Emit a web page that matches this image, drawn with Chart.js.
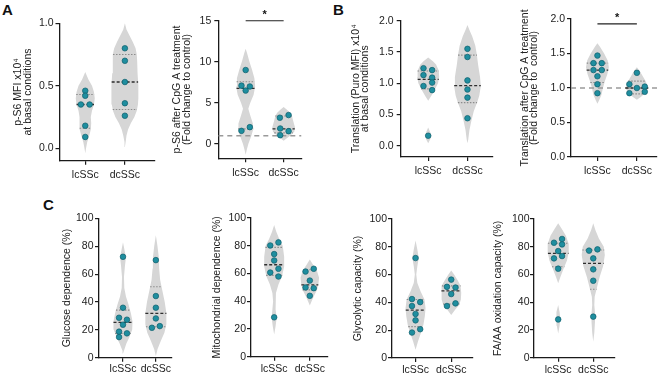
<!DOCTYPE html>
<html lang="en">
<head>
<meta charset="UTF-8">
<title>SSc violin plots</title>
<script src="https://cdn.jsdelivr.net/npm/chart.js"></script>
<style>
  body { margin: 0; background: #fff; width: 669px; height: 376px; position: relative; overflow: hidden; font-family: "Liberation Sans", Arial, sans-serif; }
  canvas { position: absolute; }
  .tag { position: absolute; font-weight: bold; font-size: 15px; color: #111; }
</style>
</head>
<body>
<div class="tag" style="left:2px;top:1px">A</div>
<div class="tag" style="left:333px;top:1px">B</div>
<div class="tag" style="left:43px;top:196px">C</div>

<script>
const groups = ['lcSSc', 'dcSSc'];

// ---- A, left: p-S6 at basal conditions ----
const a1LcVals = [0.46, 0.42, 0.35, 0.35, 0.18, 0.09];
const a1LcJit = [0, 0, -0.11, 0.11, 0, 0];
const a1DcVals = [0.80, 0.70, 0.53, 0.36, 0.26];
const a1DcJit = [0, 0, 0, 0, 0];
const a1LcQuart = [0.16, 0.35, 0.43];
const a1DcQuart = [0.31, 0.53, 0.75];
// violin outline: [value, half width]
const a1LcViolin = [[0.61, 0], [0.55, 0.08], [0.50, 0.17], [0.45, 0.22], [0.40, 0.24], [0.35, 0.22], [0.30, 0.17],
  [0.25, 0.14], [0.20, 0.15], [0.15, 0.14], [0.10, 0.10], [0.05, 0.05], [0.0, 0.02], [-0.04, 0]];
const a1DcViolin = [[1.0, 0], [0.95, 0.04], [0.90, 0.12], [0.85, 0.20], [0.80, 0.27], [0.75, 0.30], [0.70, 0.31],
  [0.60, 0.32], [0.50, 0.34], [0.40, 0.34], [0.35, 0.33], [0.30, 0.30], [0.25, 0.24], [0.20, 0.15], [0.15, 0.08],
  [0.10, 0.04], [0.05, 0.02], [0.01, 0]];

// ---- A, right: p-S6 after CpG A ----
const a2LcVals = [9.0, 7.1, 7.0, 6.5, 2.05, 1.6];
const a2LcJit = [0, -0.11, 0.11, 0, 0.11, -0.11];
const a2DcVals = [3.52, 3.2, 1.89, 1.56, 1.07];
const a2DcJit = [0.13, -0.1, -0.09, 0.13, -0.09];
const a2LcQuart = [1.84, 6.76, 7.58];
const a2DcQuart = [1.35, 1.84, 3.4];
const a2LcViolin = [[11.6, 0], [11, 0.04], [10, 0.10], [9, 0.17], [8, 0.23], [7, 0.25], [6, 0.21], [5, 0.12],
  [4.3, 0.07], [3.5, 0.12], [2.5, 0.19], [1.8, 0.20], [1.0, 0.15], [0, 0.07], [-0.7, 0.03], [-1.3, 0]];
const a2DcViolin = [[4.5, 0], [4.2, 0.08], [3.8, 0.17], [3.4, 0.22], [3.0, 0.24], [2.5, 0.27], [2.0, 0.30],
  [1.5, 0.28], [1.0, 0.17], [0.6, 0.06], [0.4, 0]];
const a2Sig = 15;

// ---- B, left: translation at basal conditions ----
const b1LcVals = [1.24, 1.21, 1.13, 1.09, 1.01, 0.955, 0.89, 0.16];
const b1LcJit = [-0.12, 0.1, -0.12, 0.1, 0.1, -0.12, 0.1, 0];
const b1DcVals = [1.55, 1.42, 1.045, 0.90, 0.77, 0.44];
const b1DcJit = [0, 0, 0, 0, 0, 0];
const b1LcQuart = [0.91, 1.06, 1.195];
const b1DcQuart = [0.69, 0.96, 1.45];
const b1LcViolin = [[1.41, 0], [1.35, 0.12], [1.3, 0.20], [1.2, 0.27], [1.1, 0.28], [1.0, 0.25], [0.9, 0.17],
  [0.8, 0.08], [0.72, 0], [0.29, 0], [0.22, 0.05], [0.16, 0.08], [0.1, 0.05], [0.04, 0]];
const b1DcViolin = [[1.93, 0], [1.85, 0.05], [1.75, 0.12], [1.6, 0.20], [1.45, 0.24], [1.3, 0.27], [1.1, 0.32],
  [0.95, 0.34], [0.8, 0.30], [0.7, 0.25], [0.55, 0.16], [0.4, 0.10], [0.25, 0.05], [0.1, 0.02], [0.04, 0]];

// ---- B, right: translation after CpG A ----
const b2LcVals = [1.47, 1.36, 1.36, 1.26, 1.26, 1.17, 1.055, 0.925];
const b2LcJit = [0, -0.1, 0.11, -0.1, 0.11, 0, 0, 0];
const b2DcVals = [1.22, 1.055, 1.02, 1.0, 0.925, 0.945];
const b2DcJit = [0, -0.19, 0.2, 0, -0.19, 0.2];
const b2LcQuart = [1.08, 1.26, 1.36];
const b2DcQuart = [0.915, 1.0, 1.10];
const b2LcViolin = [[1.65, 0], [1.6, 0.06], [1.5, 0.17], [1.4, 0.26], [1.3, 0.29], [1.2, 0.25], [1.1, 0.19],
  [1.0, 0.14], [0.9, 0.10], [0.82, 0.04], [0.77, 0]];
const b2DcViolin = [[1.3, 0], [1.25, 0.07], [1.2, 0.12], [1.1, 0.22], [1.0, 0.29], [0.93, 0.22], [0.87, 0.10], [0.83, 0]];
const b2Sig = 1.93;

// ---- C: metabolic profiles ----
const c1LcVals = [72.5, 35.9, 28.7, 27.3, 23.7, 18.7, 17.5, 14.8];
const c1LcJit = [0, 0, -0.12, 0.12, 0, -0.12, 0.12, -0.12];
const c1DcVals = [70.1, 44.3, 35.9, 28.2, 21.5, 22.7];
const c1DcJit = [0, 0, 0, 0, -0.12, 0.12];
const c1LcQuart = [17.5, 25.4, 34.2];
const c1DcQuart = [22.2, 31.8, 51];
const c1LcViolin = [[83, 0], [78, 0.04], [72, 0.09], [66, 0.06], [58, 0.03], [50, 0.04], [44, 0.09], [38, 0.17],
  [32, 0.24], [26, 0.29], [20, 0.28], [15, 0.20], [10, 0.10], [5, 0.03], [3, 0]];
const c1DcViolin = [[88, 0], [80, 0.05], [72, 0.09], [64, 0.10], [56, 0.13], [48, 0.20], [40, 0.27], [32, 0.32],
  [24, 0.32], [18, 0.26], [12, 0.15], [6, 0.05], [1, 0]];

const c2LcVals = [82.4, 80.2, 74, 69.4, 63.4, 60.7, 57.8, 28.4];
const c2LcJit = [0.12, -0.11, 0, 0, 0.12, -0.11, 0.12, 0];
const c2DcVals = [63.4, 61.4, 54.9, 49.9, 49.4, 43.9];
const c2DcJit = [0.11, -0.12, 0, -0.12, 0.11, 0];
const c2LcQuart = [58.6, 66.3, 78.8];
const c2DcQuart = [48.2, 51.8, 62.7];
const c2LcViolin = [[95, 0], [90, 0.06], [85, 0.14], [80, 0.24], [72, 0.28], [65, 0.28], [58, 0.22], [52, 0.12],
  [46, 0.05], [40, 0.03], [34, 0.05], [28, 0.07], [22, 0.04], [16, 0]];
const c2DcViolin = [[70, 0], [66, 0.10], [62, 0.20], [57, 0.26], [52, 0.24], [48, 0.20], [44, 0.12], [40, 0.05], [37, 0]];

const c3LcVals = [71.9, 42.4, 40.2, 37.4, 31.7, 27.1, 20.7, 18.3];
const c3LcJit = [0, -0.1, 0.13, -0.1, 0, 0, 0.13, -0.1];
const c3DcVals = [56.4, 51.2, 50.7, 46, 39.3, 37.4];
const c3DcJit = [0, -0.12, 0.12, 0, 0.12, -0.12];
const c3LcQuart = [22.6, 34.5, 42.1];
const c3DcQuart = [38.8, 48.3, 51.9];
const c3LcViolin = [[84.5, 0], [78, 0.05], [72, 0.09], [66, 0.05], [60, 0.02], [54, 0.05], [48, 0.14], [42, 0.25],
  [36, 0.28], [30, 0.26], [24, 0.22], [18, 0.15], [12, 0.07], [6, 0]];
const c3DcViolin = [[63, 0], [60, 0.08], [56, 0.18], [52, 0.26], [47, 0.28], [42, 0.27], [38, 0.22], [35, 0.12], [31, 0]];

const c4LcVals = [85.6, 82.9, 81.7, 76.9, 73.3, 71.6, 64.2, 27.6];
const c4LcJit = [0.11, -0.12, 0.11, 0, 0.11, -0.12, 0, 0];
const c4DcVals = [78.1, 77.2, 71.6, 63.7, 55.5, 29.6];
const c4DcJit = [0.12, -0.12, 0, 0, 0, 0];
const c4LcQuart = [65.6, 75.2, 82.5];
const c4DcQuart = [49.3, 68, 77.6];
const c4LcViolin = [[97, 0], [93, 0.10], [88, 0.22], [82, 0.30], [76, 0.30], [70, 0.25], [64, 0.15], [58, 0.06],
  [53.6, 0], [38, 0], [33, 0.04], [28, 0.06], [23, 0.04], [17.5, 0]];
const c4DcViolin = [[97, 0], [92, 0.06], [86, 0.16], [80, 0.30], [74, 0.33], [66, 0.28], [58, 0.18], [50, 0.10],
  [44, 0.04], [38, 0.03], [32, 0.05], [26, 0.05], [18, 0.03], [11.5, 0]];

const pctTicks = [0, 20, 40, 60, 80, 100];

const FONT = '"Liberation Sans", Arial, sans-serif';
const VIOLIN = '#d6d6d6';
const DOT = '#1f8e9f';
const DOT_EDGE = '#0f5f6c';

function violinPath(center, outline) {
  const right = outline.map(p => ({x: center + p[1], y: p[0]}));
  const left = outline.slice().reverse().map(p => ({x: center - p[1], y: p[0]}));
  return right.concat(left);
}

function widthAt(outline, y) {
  for (let i = 0; i < outline.length - 1; i++) {
    const [y0, w0] = outline[i], [y1, w1] = outline[i + 1];
    if (y <= y0 && y >= y1) return w0 + (w1 - w0) * (y0 - y) / (y0 - y1);
  }
  return 0;
}

const starPlugin = {
  id: 'star',
  afterDraw(chart) {
    const s = chart.options.plugins.star;
    if (!s || s.y === undefined) return;
    const ctx = chart.ctx;
    ctx.save();
    ctx.fillStyle = '#111';
    ctx.font = 'bold 11px ' + FONT;
    ctx.textAlign = 'center';
    ctx.textBaseline = 'middle';
    ctx.fillText('*', chart.scales.x.getPixelForValue(1.5), chart.scales.y.getPixelForValue(s.y) - 6);
    ctx.restore();
  }
};

function makeChart(box, cfg) {
  const canvas = document.createElement('canvas');
  canvas.width = box.w;
  canvas.height = box.h;
  canvas.style.left = box.left + 'px';
  canvas.style.top = box.top + 'px';
  document.body.appendChild(canvas);

  const yW = box.axisX - box.left;
  const xH = box.top + box.h - box.axisY;
  const titleSize = 10.5;
  const titleLh = 0.9;
  const layers = [];

  cfg.sets.forEach((g, i) => {
    layers.push({type: 'line', data: violinPath(i + 1, g.violin), fill: 'shape', backgroundColor: VIOLIN,
      borderWidth: 0, pointRadius: 0, tension: 0});
  });
  if (cfg.ref !== undefined) {
    layers.push({type: 'line', data: [{x: cfg.xMin, y: cfg.ref}, {x: cfg.xMax, y: cfg.ref}], borderColor: '#9a9a9a',
      borderWidth: 1.5, borderDash: [5, 4], pointRadius: 0, fill: false});
  }
  cfg.sets.forEach((g, i) => {
    g.quart.forEach((q, k) => {
      const w = widthAt(g.violin, q);
      const med = k === 1;
      layers.push({type: 'line', data: [{x: i + 1 - w, y: q}, {x: i + 1 + w, y: q}],
        borderColor: med ? '#2e2e2e' : '#8c8c8c', borderWidth: med ? 1.3 : 1.1,
        borderDash: med ? [3, 2] : [1.5, 1.5], pointRadius: 0, fill: false});
    });
  });
  cfg.sets.forEach((g, i) => {
    layers.push({type: 'scatter', data: g.vals.map((v, k) => ({x: i + 1 + g.jit[k], y: v})),
      pointRadius: 2.8, backgroundColor: DOT, borderColor: DOT_EDGE, borderWidth: 0.7});
  });
  if (cfg.sig !== undefined) {
    layers.push({type: 'line', data: [{x: 1, y: cfg.sig}, {x: 2, y: cfg.sig}], borderColor: '#222',
      borderWidth: 1.1, pointRadius: 0, fill: false, clip: false});
  }

  const axisColor = '#1a1a1a';
  new Chart(canvas, {
    type: 'scatter',
    data: {datasets: layers.reverse()},
    plugins: [starPlugin],
    options: {
      responsive: false,
      devicePixelRatio: 1,
      animation: false,
      events: [],
      layout: {padding: {left: 0, top: box.plotTop - box.top, right: box.left + box.w - box.right, bottom: 0}},
      plugins: {legend: {display: false}, tooltip: {enabled: false}, star: {y: cfg.sig}},
      scales: {
        x: {
          type: 'linear', min: cfg.xMin, max: cfg.xMax,
          afterBuildTicks: s => { s.ticks = [{value: 1}, {value: 2}]; },
          afterFit: s => { s.height = xH; },
          ticks: {callback: (v, i) => groups[i], font: {family: FONT, size: 10.5}, color: '#222',
            padding: box.xPad, maxRotation: 0, autoSkip: false},
          grid: {display: true, drawOnChartArea: false, drawTicks: true, tickLength: 4, color: axisColor, lineWidth: 1.2},
          border: {display: true, color: axisColor, width: 1.3}
        },
        y: {
          type: 'linear', min: cfg.yMin, max: cfg.yMax,
          afterBuildTicks: s => { s.ticks = cfg.yTicks.map(v => ({value: v})); },
          afterFit: s => { s.width = yW; },
          ticks: {callback: v => v.toFixed(cfg.dec), font: {family: FONT, size: 10.5}, color: '#222',
            padding: box.yPad, autoSkip: false},
          grid: {display: true, drawOnChartArea: false, drawTicks: true, tickLength: 4, color: axisColor, lineWidth: 1.2},
          border: {display: true, color: axisColor, width: 1.3},
          title: {display: true, text: cfg.title, color: '#222', font: {family: FONT, size: titleSize, lineHeight: titleLh},
            padding: {top: box.titleX - box.left - titleSize * titleLh / 2, bottom: 0}}
        }
      }
    }
  });
}

makeChart({left: 0, top: 0, w: 162, h: 190, axisX: 59.5, axisY: 160.7, plotTop: 23.3, right: 155, titleX: 18.5, xPad: 4, yPad: 2},
  {xMin: 0.35, xMax: 2.76, yMin: -0.1, yMax: 1.0, yTicks: [0, 0.5, 1.0], dec: 1,
   title: ['p-S6 MFI x10\u2074', 'at basal conditions'],
   sets: [{vals: a1LcVals, jit: a1LcJit, quart: a1LcQuart, violin: a1LcViolin},
          {vals: a1DcVals, jit: a1DcJit, quart: a1DcQuart, violin: a1DcViolin}]});

makeChart({left: 164, top: 0, w: 150, h: 190, axisX: 218.3, axisY: 158.3, plotTop: 20.7, right: 301.5, titleX: 177.3, xPad: 4.4, yPad: 3},
  {xMin: 0.28, xMax: 2.47, yMin: -1.74, yMax: 15, yTicks: [0, 5, 10, 15], dec: 0, ref: 1, sig: a2Sig,
   title: ['p-S6 after CpG A treatment', '(Fold change to control)'],
   sets: [{vals: a2LcVals, jit: a2LcJit, quart: a2LcQuart, violin: a2LcViolin},
          {vals: a2DcVals, jit: a2DcJit, quart: a2DcQuart, violin: a2DcViolin}]});

makeChart({left: 330, top: 0, w: 170, h: 190, axisX: 400.7, axisY: 157, plotTop: 20.7, right: 493, titleX: 356, xPad: 4, yPad: 3},
  {xMin: 0.3, xMax: 2.65, yMin: -0.18, yMax: 2.0, yTicks: [0, 0.5, 1.0, 1.5, 2.0], dec: 1,
   title: ['Translation (Puro MFI) x10\u2074', 'at basal conditions'],
   sets: [{vals: b1LcVals, jit: b1LcJit, quart: b1LcQuart, violin: b1LcViolin},
          {vals: b1DcVals, jit: b1DcJit, quart: b1DcQuart, violin: b1DcViolin}]});

makeChart({left: 500, top: 0, w: 169, h: 190, axisX: 571, axisY: 157, plotTop: 19, right: 657, titleX: 525, xPad: 4, yPad: 2},
  {xMin: 0.33, xMax: 2.51, yMin: 0, yMax: 2.0, yTicks: [0, 0.5, 1.0, 1.5, 2.0], dec: 1, ref: 1, sig: b2Sig,
   title: ['Translation after CpG A treatment', '(Fold change to  control)'],
   sets: [{vals: b2LcVals, jit: b2LcJit, quart: b2LcQuart, violin: b2LcViolin},
          {vals: b2DcVals, jit: b2DcJit, quart: b2DcQuart, violin: b2DcViolin}]});

makeChart({left: 40, top: 190, w: 136, h: 186, axisX: 99, axisY: 357.7, plotTop: 218.5, right: 175, titleX: 66.7, xPad: 1.5, yPad: 1.5},
  {xMin: 0.27, xMax: 2.47, yMin: 0, yMax: 100, yTicks: pctTicks, dec: 0,
   title: 'Glucose dependence (%)',
   sets: [{vals: c1LcVals, jit: c1LcJit, quart: c1LcQuart, violin: c1LcViolin},
          {vals: c1DcVals, jit: c1DcJit, quart: c1DcQuart, violin: c1DcViolin}]});

makeChart({left: 200, top: 190, w: 135, h: 186, axisX: 251, axisY: 356.7, plotTop: 218, right: 328, titleX: 216.7, xPad: 2.5, yPad: 1},
  {xMin: 0.35, xMax: 2.51, yMin: 0, yMax: 100, yTicks: pctTicks, dec: 0,
   title: 'Mitochondrial dependence (%)',
   sets: [{vals: c2LcVals, jit: c2LcJit, quart: c2LcQuart, violin: c2LcViolin},
          {vals: c2DcVals, jit: c2DcJit, quart: c2DcQuart, violin: c2DcViolin}]});

makeChart({left: 340, top: 190, w: 140, h: 186, axisX: 392, axisY: 358, plotTop: 219, right: 473, titleX: 358.3, xPad: 1.5, yPad: 1},
  {xMin: 0.34, xMax: 2.61, yMin: 0, yMax: 100, yTicks: pctTicks, dec: 0,
   title: 'Glycolytic capacity (%)',
   sets: [{vals: c3LcVals, jit: c3LcJit, quart: c3LcQuart, violin: c3LcViolin},
          {vals: c3DcVals, jit: c3DcJit, quart: c3DcQuart, violin: c3DcViolin}]});

makeChart({left: 482, top: 190, w: 145, h: 186, axisX: 534, axisY: 357.7, plotTop: 219, right: 615, titleX: 498.3, xPad: 2, yPad: 0.5},
  {xMin: 0.31, xMax: 2.62, yMin: 0, yMax: 100, yTicks: pctTicks, dec: 0,
   title: 'FA/AA oxidation capacity (%)',
   sets: [{vals: c4LcVals, jit: c4LcJit, quart: c4LcQuart, violin: c4LcViolin},
          {vals: c4DcVals, jit: c4DcJit, quart: c4DcQuart, violin: c4DcViolin}]});
</script>
</body>
</html>
